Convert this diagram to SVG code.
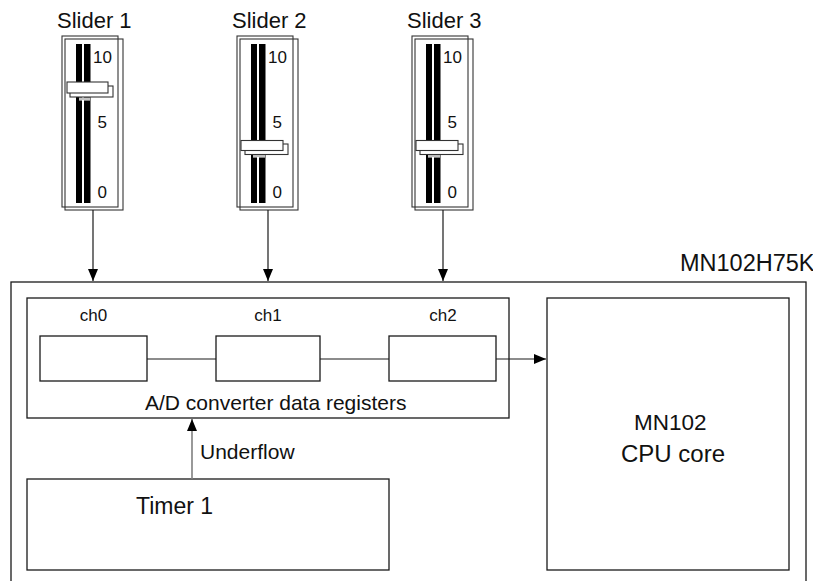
<svg xmlns="http://www.w3.org/2000/svg" width="813" height="581" viewBox="0 0 813 581">
<style>
  text { font-family: "Liberation Sans", Arial, sans-serif; fill: #111; }
  .box { fill: none; stroke: #1a1a1a; stroke-width: 1.3; }
  .frame { fill: none; stroke: #333; stroke-width: 1.1; }
  .thumb { fill: #fff; stroke: #333; stroke-width: 1.1; }
  .bar { fill: #000; }
  .num { font-size: 17px; }
  .lbl { font-size: 21px; }
  .big { font-size: 22px; }
  .ch { font-size: 17px; }
  .wire { stroke: #1a1a1a; stroke-width: 1.2; fill: none; }
  .gray { stroke: #808080; stroke-width: 1.6; fill: none; }
</style>
<defs>
  <marker id="arrow" viewBox="0 0 12 10" refX="12" refY="5" markerWidth="12" markerHeight="10" markerUnits="userSpaceOnUse" orient="auto">
    <path d="M0,0 L12,5 L0,10 z" fill="#000"/>
  </marker>
  <g id="sliderBody">
    <rect class="frame" x="62" y="36" width="56" height="171"/>
    <rect class="frame" x="65" y="39" width="58" height="171"/>
    <rect class="bar" x="76" y="44" width="6" height="159"/>
    <rect class="bar" x="84" y="44" width="6.5" height="159"/>
    <text class="num" x="93" y="63">10</text>
    <text class="num" x="97.5" y="128">5</text>
    <text class="num" x="97.5" y="198">0</text>
  </g>
</defs>

<g id="slider1">
  <text class="big" x="57" y="28">Slider 1</text>
  <use href="#sliderBody"/>
  <rect x="79" y="97.5" width="11" height="3" fill="#fff"/>
  <line x1="79" y1="99" x2="90" y2="99" stroke="#888" stroke-width="1"/>
  <rect class="thumb" x="70" y="86" width="43" height="11"/>
  <rect class="thumb" x="67" y="82" width="41" height="11"/>
</g>

<g id="slider2" transform="translate(175,0)">
  <text class="big" x="57" y="28">Slider 2</text>
  <use href="#sliderBody"/>
  <rect x="78" y="154.5" width="12" height="3" fill="#fff"/>
  <line x1="78" y1="156" x2="90" y2="156" stroke="#888" stroke-width="1"/>
  <rect class="thumb" x="70" y="144" width="43" height="10.5"/>
  <rect class="thumb" x="66" y="140.5" width="42" height="10"/>
</g>

<g id="slider3" transform="translate(350,0)">
  <text class="big" x="57" y="28">Slider 3</text>
  <use href="#sliderBody"/>
  <rect x="78" y="154.5" width="12" height="3" fill="#fff"/>
  <line x1="78" y1="156" x2="90" y2="156" stroke="#888" stroke-width="1"/>
  <rect class="thumb" x="70" y="144" width="43" height="10.5"/>
  <rect class="thumb" x="66" y="140.5" width="42" height="10"/>
</g>

<g id="chip">
  <rect class="box" x="11" y="282" width="795" height="330"/>
  <text x="680" y="271" font-size="23.5">MN102H75K</text>
</g>

<g id="adc">
  <rect class="box" x="27" y="298" width="482" height="120"/>
  <text class="lbl" x="145" y="410">A/D converter data registers</text>
</g>

<g id="ch0">
  <rect class="box" x="40" y="336" width="107" height="45"/>
  <text class="ch" x="93.5" y="321" text-anchor="middle">ch0</text>
</g>
<g id="ch1">
  <rect class="box" x="216" y="336" width="104" height="45"/>
  <text class="ch" x="268" y="321" text-anchor="middle">ch1</text>
</g>
<g id="ch2">
  <rect class="box" x="389" y="336" width="107" height="45"/>
  <text class="ch" x="443" y="321" text-anchor="middle">ch2</text>
</g>

<g id="cpu">
  <rect class="box" x="547" y="298" width="242" height="272"/>
  <text x="634" y="430" font-size="22.5">MN102</text>
  <text x="621" y="462" font-size="24">CPU core</text>
</g>

<g id="timer1">
  <rect class="box" x="27" y="479" width="362" height="91"/>
  <text x="136" y="514" font-size="23">Timer 1</text>
</g>

<g id="connectors">
  <line class="wire" x1="93" y1="210" x2="93" y2="281" marker-end="url(#arrow)"/>
  <line class="wire" x1="268" y1="210" x2="268" y2="281" marker-end="url(#arrow)"/>
  <line class="wire" x1="443" y1="210" x2="443" y2="281" marker-end="url(#arrow)"/>
  <line class="wire" x1="147" y1="359" x2="216" y2="359"/>
  <line class="wire" x1="320" y1="359" x2="389" y2="359"/>
  <line class="wire" x1="496" y1="359" x2="546" y2="359" marker-end="url(#arrow)"/>
  <line class="gray" x1="192" y1="479" x2="192" y2="419" marker-end="url(#arrow)"/>
  <text class="lbl" x="200" y="459">Underflow</text>
</g>
</svg>
